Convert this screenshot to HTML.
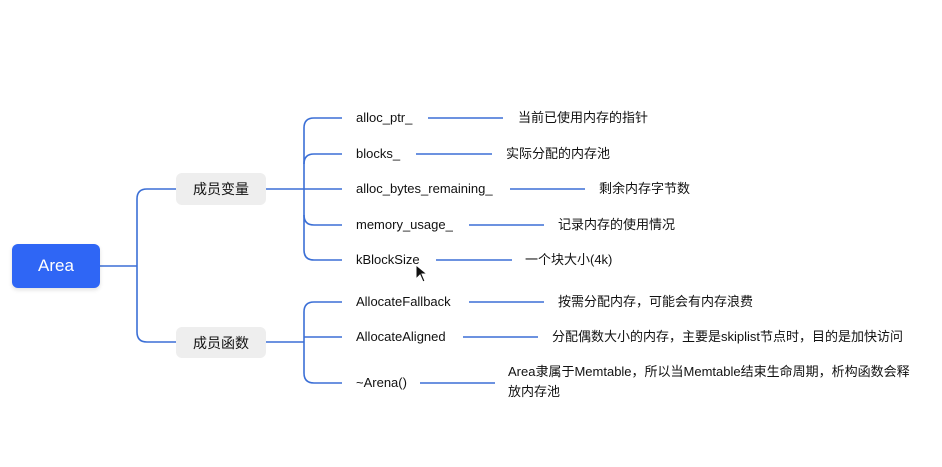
<!DOCTYPE html>
<html><head><meta charset="utf-8"><style>
body{margin:0;width:942px;height:467px;background:#fff;position:relative;overflow:hidden;font-family:"Liberation Sans","Noto Sans CJK SC",sans-serif;}
.t{position:absolute;font-size:13px;color:#111;line-height:16px;white-space:nowrap;}
.box{position:absolute;border-radius:6px;display:flex;align-items:center;justify-content:center;}
</style></head><body>
<svg width="942" height="467" style="position:absolute;left:0;top:0" fill="none" stroke="#3b6fd6" stroke-width="1.6">
<path d="M100 266 H137"/>
<path d="M176 189 H147 Q137 189 137 199 V332 Q137 342 147 342 H176"/>
<path d="M266 189 H342"/>
<path d="M342 118 H314 Q304 118 304 128 V250 Q304 260 314 260 H342"/>
<path d="M342 154 H314 Q304 154 304 164"/>
<path d="M342 225 H314 Q304 225 304 215"/>
<path d="M266 342 H304"/>
<path d="M342 302 H314 Q304 302 304 312 V373 Q304 383 314 383 H342"/>
<path d="M304 337 H342"/>
<path d="M428 118 H503"/>
<path d="M416 154 H492"/>
<path d="M510 189 H585"/>
<path d="M469 225 H544"/>
<path d="M436 260 H512"/>
<path d="M469 302 H544"/>
<path d="M463 337 H538"/>
<path d="M420 383 H495"/>
</svg>
<div class="box" style="left:12px;top:244px;width:88px;height:44px;background:#2f66f5;color:#fff;font-size:17px;box-shadow:0 2px 4px rgba(0,0,0,0.12)">Area</div>
<div class="box" style="left:176px;top:173px;width:90px;height:32px;background:#eeeeee;color:#111;font-size:14px">成员变量</div>
<div class="box" style="left:176px;top:327px;width:90px;height:31px;background:#eeeeee;color:#111;font-size:14px">成员函数</div>
<div class="t" style="left:356px;top:110px">alloc_ptr_</div>
<div class="t" style="left:356px;top:146px">blocks_</div>
<div class="t" style="left:356px;top:181px">alloc_bytes_remaining_</div>
<div class="t" style="left:356px;top:217px">memory_usage_</div>
<div class="t" style="left:356px;top:252px">kBlockSize</div>
<div class="t" style="left:356px;top:294px">AllocateFallback</div>
<div class="t" style="left:356px;top:329px">AllocateAligned</div>
<div class="t" style="left:356px;top:375px">~Arena()</div>
<div class="t" style="left:518px;top:110px">当前已使用内存的指针</div>
<div class="t" style="left:506px;top:146px">实际分配的内存池</div>
<div class="t" style="left:599px;top:181px">剩余内存字节数</div>
<div class="t" style="left:558px;top:217px">记录内存的使用情况</div>
<div class="t" style="left:525px;top:252px">一个块大小(4k)</div>
<div class="t" style="left:558px;top:294px">按需分配内存，可能会有内存浪费</div>
<div class="t" style="left:552px;top:329px">分配偶数大小的内存，主要是skiplist节点时，目的是加快访问</div>
<div class="t" style="left:508px;top:364px">Area隶属于Memtable，所以当Memtable结束生命周期，析构函数会释</div>
<div class="t" style="left:508px;top:384px">放内存池</div>
<svg width="14" height="20" style="position:absolute;left:415px;top:264px"><path d="M1 1 L1 15 L5 11 L8 18 L10 17 L7 10 L12 10 Z" fill="#111" stroke="#fff" stroke-width="1"/></svg>
</body></html>
